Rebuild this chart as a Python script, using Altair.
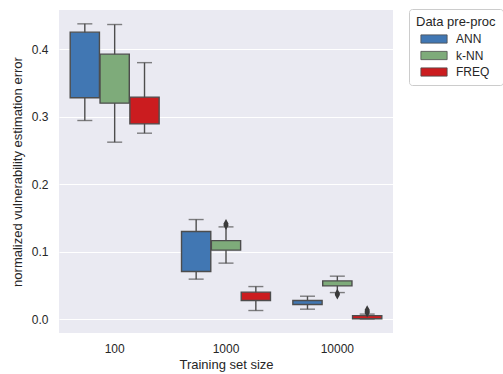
import altair as alt
import pandas as pd

# Training set sizes and preprocessing methods
sizes = ["100", "1000", "10000"]
methods = ["ANN", "k-NN", "FREQ"]
colors = ["#4177b3", "#7eab7a", "#cb1c1f"]

# Box statistics, one entry per (size, method) in the order above
box_size = ["100", "100", "100", "1000", "1000", "1000", "10000", "10000", "10000"]
box_method = ["ANN", "k-NN", "FREQ", "ANN", "k-NN", "FREQ", "ANN", "k-NN", "FREQ"]
whisker_low = [0.2943, 0.2622, 0.2755, 0.0593, 0.0830, 0.0128, 0.0148, 0.0394, 0.0002]
quartile_1 = [0.3279, 0.3200, 0.2893, 0.0705, 0.1022, 0.0276, 0.0217, 0.0493, 0.0006]
quartile_3 = [0.4252, 0.3926, 0.3289, 0.1298, 0.1164, 0.0400, 0.0276, 0.0567, 0.0053]
whisker_high = [0.4375, 0.4365, 0.3800, 0.1476, 0.1367, 0.0483, 0.0340, 0.0637, 0.0075]

# Outlying runs
out_size = ["1000", "1000", "10000", "10000", "10000", "10000", "10000"]
out_method = ["k-NN", "k-NN", "k-NN", "k-NN", "FREQ", "FREQ", "FREQ"]
out_value = [0.1390, 0.1415, 0.0362, 0.0382, 0.0095, 0.0115, 0.0135]

boxes = pd.DataFrame({
    "size": box_size, "method": box_method,
    "lo": whisker_low, "q1": quartile_1, "q3": quartile_3, "hi": whisker_high,
})
outliers = pd.DataFrame({"size": out_size, "method": out_method, "value": out_value})

edge = "#4d4d4d"
text_color = "#262626"

x_enc = alt.X(
    "size:N", sort=sizes,
    scale=alt.Scale(paddingInner=0, paddingOuter=0),
    axis=alt.Axis(title="Training set size", labelAngle=0, ticks=False, domain=False,
                  grid=False, labelPadding=10, titlePadding=4),
)
xoff_enc = alt.XOffset("method:N", sort=methods,
                       scale=alt.Scale(paddingInner=0.02, paddingOuter=0.375))
y_scale = alt.Scale(domain=[-0.0205, 0.458], nice=False, zero=False)
color_enc = alt.Color(
    "method:N", sort=methods,
    scale=alt.Scale(domain=methods, range=colors),
    legend=alt.Legend(title="Data pre-proc"),
)

base = alt.Chart(boxes).encode(x=x_enc, xOffset=xoff_enc)

whiskers = base.mark_rule(color=edge, strokeWidth=1.4).encode(
    y=alt.Y("lo:Q", scale=y_scale,
            axis=alt.Axis(title="normalized vulnerability estimation error",
                          values=[0, 0.1, 0.2, 0.3, 0.4], format=".1f",
                          ticks=False, domain=False, labelPadding=11,
                          titlePadding=7)),
    y2="hi:Q",
)
caps_low = base.mark_tick(color=edge, thickness=1.4, size=15, orient="horizontal").encode(
    y=alt.Y("lo:Q", scale=y_scale))
caps_high = base.mark_tick(color=edge, thickness=1.4, size=15, orient="horizontal").encode(
    y=alt.Y("hi:Q", scale=y_scale))
bars = base.mark_bar(stroke=edge, strokeWidth=1.4).encode(
    y=alt.Y("q1:Q", scale=y_scale), y2="q3:Q", color=color_enc)

fliers = alt.Chart(outliers).mark_point(
    shape="M0,-1L0.55,0L0,1L-0.55,0Z", filled=True, color="#3a3a3a", size=90, opacity=1,
).encode(x=x_enc, xOffset=xoff_enc, y=alt.Y("value:Q", scale=y_scale))

chart = (
    alt.layer(whiskers, caps_low, caps_high, bars, fliers)
    .properties(width=334, height=323,
                autosize=alt.AutoSizeParams(type="none"),
                padding={"left": 59, "top": 10, "right": 110, "bottom": 41})
    .configure_view(fill="#EAEAF2", stroke=None)
    .configure_axis(gridColor="white", gridWidth=1.1, labelColor=text_color,
                    titleColor=text_color, labelFont="Liberation Sans",
                    titleFont="Liberation Sans", labelFontSize=12, titleFontSize=13,
                    titleFontWeight="normal")
    .configure_legend(
        orient="none", legendX=350, legendY=-1,
        titleFont="Liberation Sans", labelFont="Liberation Sans",
        titleFontSize=13, labelFontSize=12, titleFontWeight="normal",
        titleColor=text_color, labelColor=text_color,
        fillColor="white", strokeColor="#cccccc", cornerRadius=3, padding=7,
        symbolType="M-1.75,-0.55L1.75,-0.55L1.75,0.55L-1.75,0.55Z", symbolSize=225,
        symbolStrokeColor=edge, symbolStrokeWidth=0.8, symbolOffset=10,
        labelOffset=14, rowPadding=2.5, titlePadding=2,
    )
)

chart.save("out.html", embed_options={"renderer": "svg", "actions": False})
